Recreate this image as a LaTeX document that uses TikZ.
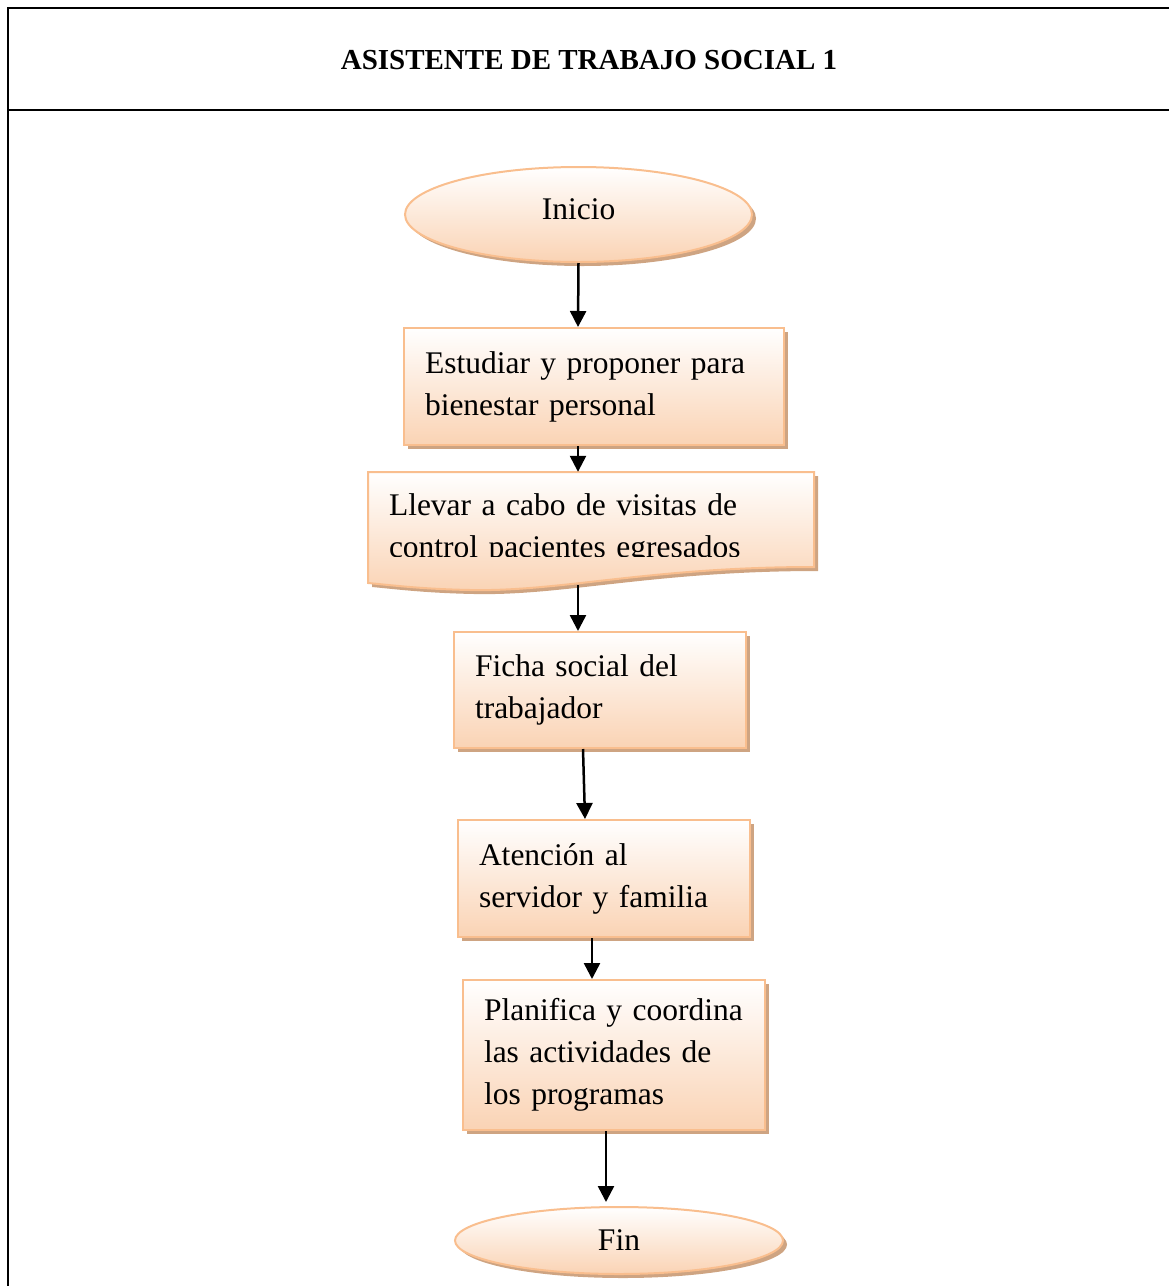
\documentclass[tikz,border=0pt]{standalone}
\usepackage{fontspec}
\setmainfont{Liberation Serif}
\usetikzlibrary{shapes.geometric,shadows,arrows.meta}

\definecolor{borde}{RGB}{249,190,142}
\definecolor{durazno}{RGB}{250,211,180}
\definecolor{sombra}{RGB}{206,164,130}

\begin{document}
\begin{tikzpicture}[x=1pt,y=-1pt,
  caja/.style={rectangle,draw=borde,line width=2pt,top color=white,bottom color=durazno,
    drop shadow={shadow xshift=4pt,shadow yshift=-4pt,fill=sombra,opacity=1},
    inner xsep=21pt,inner ysep=0pt,align=left,font=\fontsize{31.5}{42}\selectfont,
    execute at begin node={\hyphenpenalty=10000}},
  ovalo/.style={ellipse,draw=borde,line width=2pt,top color=white,bottom color=durazno,
    drop shadow={shadow xshift=4pt,shadow yshift=-4pt,fill=sombra,opacity=1},
    inner sep=0pt,font=\fontsize{31.5}{42}\selectfont},
  flecha/.style={line width=2.5pt,-{Triangle[length=16pt,width=16pt]}}]
\useasboundingbox (0,0) rectangle (1169,1286);
\draw[line width=2.5pt] (8,1286) -- (8,8) -- (1169,8);
\draw[line width=2.5pt] (8,110) -- (1169,110);
\node[font=\fontsize{29}{34}\selectfont\bfseries] (titulo) at (589,60) {ASISTENTE DE TRABAJO SOCIAL 1};

\node[ovalo,minimum width=347pt,minimum height=95pt,text height=22pt,text depth=13pt] (inicio) at (578.5,214.5) {Inicio};
\node[caja,minimum width=380pt,minimum height=117pt,text width=338pt] (estudiar) at (594,386.5)
  {Estudiar y proponer para\\bienestar personal};

% documento con borde ondulado
\fill[sombra,shift={(4,4)}] (368,472) -- (814,472) -- (814,567)
  .. controls (650,567) and (560,592) .. (470,590)
  .. controls (420,589) and (390,585) .. (368,583) -- cycle;
\shadedraw[draw=borde,line width=2pt,top color=white,bottom color=durazno] (368,472) -- (814,472) -- (814,567)
  .. controls (650,567) and (560,592) .. (470,590)
  .. controls (420,589) and (390,585) .. (368,583) -- cycle;
\begin{scope}
\clip (360,460) rectangle (820,556);
\node[inner xsep=21pt,inner ysep=0pt,align=left,font=\fontsize{31.5}{42}\selectfont,
  minimum width=446pt,minimum height=113pt,text width=404pt] (llevar) at (591,528.5)
  {Llevar a cabo de visitas de\\control pacientes egresados};
\end{scope}

\node[caja,minimum width=292pt,minimum height=116pt,text width=250pt] (ficha) at (600,690)
  {Ficha social del\\trabajador};
\node[caja,minimum width=292pt,minimum height=117pt,text width=250pt] (atencion) at (604,878.5)
  {Atención al\\servidor y familia};
\node[caja,minimum width=302pt,minimum height=150pt,text width=260pt] (planifica) at (614,1055)
  {Planifica y coordina\\las actividades de\\los programas};
\node[ovalo,minimum width=328pt,minimum height=67pt] (fin) at (619,1240.5) {Fin};

\draw[flecha] (inicio.south) -- ([xshift=-16pt]estudiar.north);
\draw[flecha] ([xshift=-16pt]estudiar.south) -- ([xshift=-13pt]llevar.north);
\draw[flecha] ([xshift=-13pt]llevar.south) -- ([xshift=-22pt]ficha.north);
\draw[flecha] ([xshift=-17pt]ficha.south) -- ([xshift=-19pt]atencion.north);
\draw[flecha] ([xshift=-12pt]atencion.south) -- ([xshift=-22pt]planifica.north);
\draw[flecha,shorten >=4pt] ([xshift=-8pt]planifica.south) -- ([xshift=-13pt]fin.north);
\end{tikzpicture}
\end{document}
